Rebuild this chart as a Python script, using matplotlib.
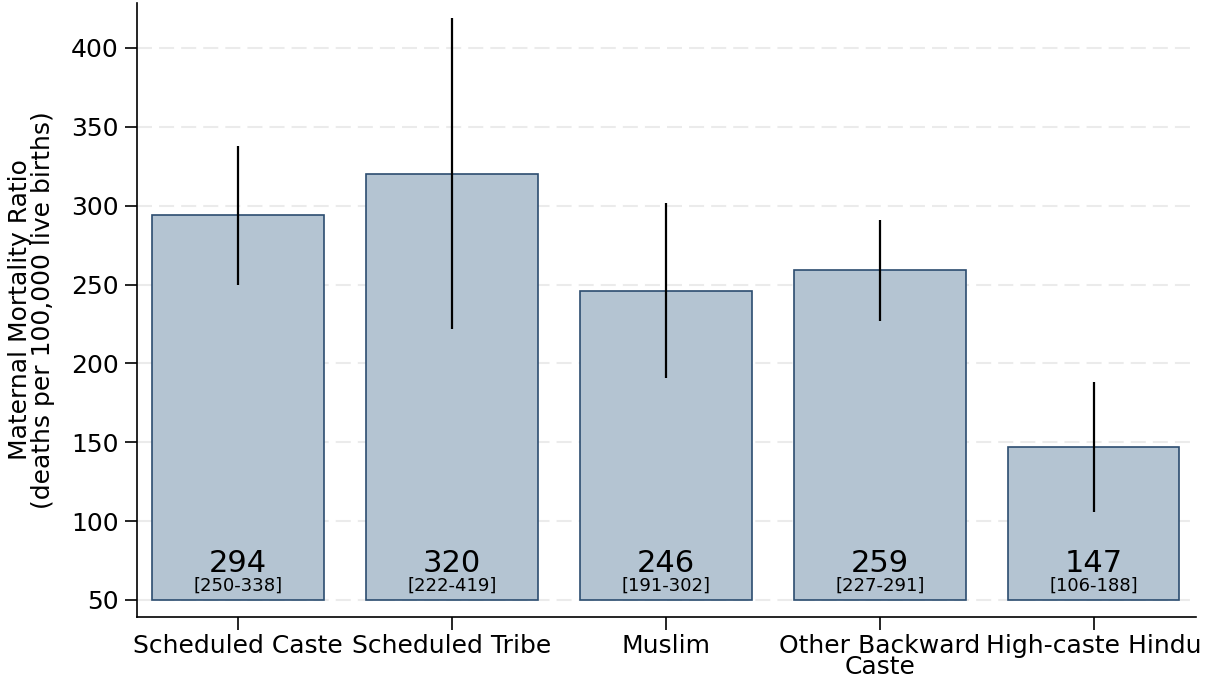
import matplotlib
matplotlib.use('Agg')
import matplotlib.pyplot as plt
import numpy as np

groups = ['Scheduled Caste', 'Scheduled Tribe', 'Muslim', 'Other Backward\nCaste', 'High-caste Hindu']
mmr = [294, 320, 246, 259, 147]
ci_low = [250, 222, 191, 227, 106]
ci_high = [338, 419, 302, 291, 188]

BASE = 50

plt.rcParams['font.family'] = ['DejaVu Sans']

fig = plt.figure(figsize=(12.05, 6.81), dpi=100)
ax = fig.add_axes([0.1137, 0.094, 0.8788, 0.9016])

x = np.arange(len(groups))
heights = [v - BASE for v in mmr]
ax.bar(x, heights, bottom=BASE, width=0.8, color='#b4c4d2',
       edgecolor='#2c4d70', linewidth=1.2, zorder=2)
ax.vlines(x, ci_low, ci_high, color='black', linewidth=1.6, zorder=3)

# point estimate and interval printed at the foot of each bar
for xi, v, lo, hi in zip(x, mmr, ci_low, ci_high):
    ax.text(xi, 68, f'{v}', ha='center', va='baseline', fontsize=22, zorder=4)
    ax.text(xi, 55.8, f'[{lo}-{hi}]', ha='center', va='baseline', fontsize=13, zorder=4)

ax.set_xlim(-0.472, 4.477)
ax.set_ylim(39.2, 428.5)
ax.set_yticks(np.arange(50, 401, 50))
ax.set_xticks(x)
ax.set_xticklabels(groups, fontsize=18, linespacing=0.85)
ax.tick_params(axis='y', labelsize=18, length=9, width=1.2, pad=4)
ax.tick_params(axis='x', length=9, width=1.2, pad=3)

ax.grid(axis='y', color='#ebebeb', linestyle=(0, (7.2, 3.4)), linewidth=1.5, zorder=0)
ax.set_axisbelow(True)
for side in ['top', 'right']:
    ax.spines[side].set_visible(False)
for side in ['left', 'bottom']:
    ax.spines[side].set_linewidth(1.2)

ax.set_ylabel('Maternal Mortality Ratio\n(deaths per 100,000 live births)',
              fontsize=18, linespacing=0.95)
ax.yaxis.set_label_coords(-0.077, 0.5)

fig.savefig('out.png', dpi=100)
